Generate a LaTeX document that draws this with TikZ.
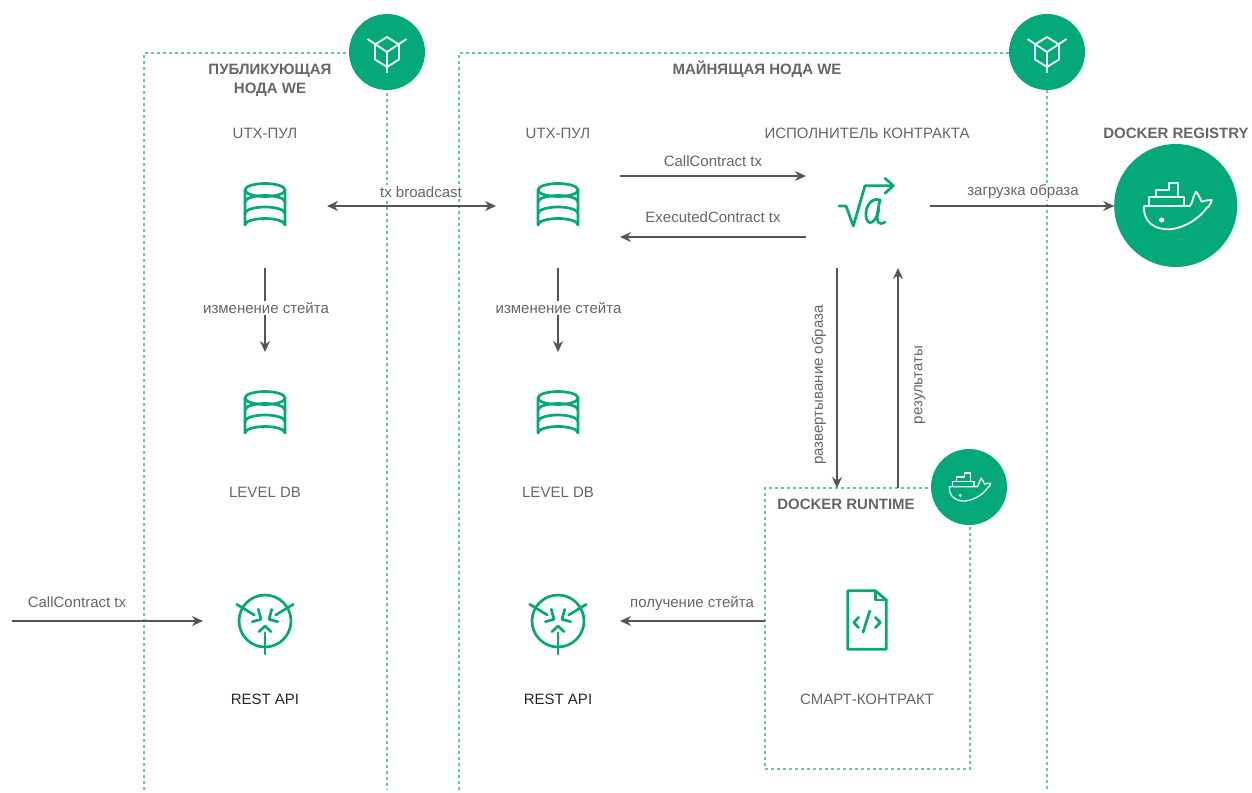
\documentclass[tikz,border=0pt]{standalone}
\usepackage{fontspec}
\setmainfont{Liberation Sans}
\usetikzlibrary{arrows.meta}
\definecolor{wegreen}{HTML}{05A878}
\definecolor{welane}{HTML}{62C9A4}
\definecolor{wetext}{HTML}{666666}
\definecolor{weline}{HTML}{555555}
\newcommand{\txtfont}{\fontsize{15}{19}\selectfont}
\tikzset{
    lane/.style = {draw=welane, line width=1.2pt, dash pattern=on 3pt off 3pt},
    iconbox/.style = {minimum size=124pt, inner sep=0pt, outer sep=0pt},
    badge/.style = {circle, fill=wegreen, inner sep=0pt, outer sep=0pt},
    txt/.style = {text=wetext, font=\txtfont, inner sep=1pt, align=center},
    head/.style = {txt, font=\txtfont\bfseries},
    flow/.style = {draw=weline, line width=1.3pt, -{Stealth[length=11pt,width=10pt]}},
    iconline/.style = {draw=wegreen, line width=2.7pt, line join=round, line cap=round},
    badgeline/.style = {draw=white!90!wegreen, line width=1.9pt, line join=round},
    pics/dbicon/.style = {code = {
        \draw[iconline] (0,-16) ellipse [x radius=20, y radius=6.5];
        \draw[iconline] (-20,-16) -- (-20,19) arc [start angle=180, end angle=360, x radius=20, y radius=6.5] -- (20,-16);
        \draw[iconline] (-20,-4) arc [start angle=180, end angle=360, x radius=20, y radius=6.5];
        \draw[iconline] (-20,7.5) arc [start angle=180, end angle=360, x radius=20, y radius=6.5];
    }},
    pics/apiicon/.style = {code = {
        \draw[iconline] (0,0) circle [radius=26];
        \draw[iconline] (-28.3,-16.7) -- (-10.7,-6);
        \draw[iconline] (28.3,-16.7) -- (10.7,-6);
        \draw[iconline] (0,33) -- (0,11.7);
        \draw[iconline] (-6.7,-11.7) -- (-4,-1.7) -- (-12.7,0.7);
        \draw[iconline] (6.7,-11.7) -- (4,-1.7) -- (12.7,0.7);
        \draw[iconline] (-6,10.7) -- (0,5) -- (6,10.7);
    }},
    pics/fileicon/.style = {code = {
        \draw[iconline] (-19.3,-29.3) -- (8.3,-29.3) -- (19.3,-20) -- (19.3,29.3) -- (-19.3,29.3) -- cycle;
        \draw[iconline] (8.3,-29.3) -- (8.3,-20) -- (19.3,-20);
        \draw[iconline] (-8.3,-2.7) -- (-13.3,2.5) -- (-8.3,7.7);
        \draw[iconline] (8.3,-2.7) -- (13.3,2.5) -- (8.3,7.7);
        \draw[iconline] (2.7,-9) -- (-4,12.3);
    }},
    pics/rooticon/.style = {code = {
        \draw[iconline] (-29,0) -- (-22,0) -- (-14.7,20) -- (-3,-20.3) -- (24.5,-20.3);
        \draw[iconline] (17,-27.7) -- (25.3,-20.3) -- (17,-12.7);
        \draw[iconline] (12,-6) .. controls (4,-9) and (-3,0) .. (-2,10) .. controls (-1,21) and (8,18) .. (11,3);
        \draw[iconline] (12,-6) .. controls (10,3) and (8,12) .. (10,16) .. controls (11,18) and (14,18) .. (17,16);
    }},
    pics/cubeicon/.style = {code = {
        \draw[badgeline] (0,-15) -- (12,-7.5) -- (12,7.5) -- (0,15) -- (-12,7.5) -- (-12,-7.5) -- cycle;
        \draw[badgeline] (0,0) -- (-19.5,-13);
        \draw[badgeline] (0,0) -- (19.5,-13);
        \draw[badgeline] (0,0) -- (0,21);
    }},
    pics/whaleicon/.style = {code = {
        \draw[badgeline] (-24,-2) -- (22,-2) .. controls (25,-6) and (25,-12) .. (28,-16.3) .. controls (31,-13) and (32,-9) .. (33.7,-6.3) .. controls (37,-7.5) and (40,-8) .. (43.7,-8) .. controls (42.5,-4) and (41,-1) .. (38.7,-0.3) .. controls (33,9) and (16,21) .. (0.3,21.3) .. controls (-12,21.5) and (-25,15) .. (-24,-2) -- cycle;
        \draw[badgeline] (-18.7,-2) -- (-18.7,-10.7) -- (-12,-10.7) -- (-12,-18) -- (1.3,-18) -- (1.3,-24.7) -- (10.3,-24.7) -- (10.3,-10.7) -- (16.3,-10.7) -- (16.3,-2);
        \draw[badgeline] (-12,-10.7) -- (10.3,-10.7);
        \fill[white] (-6.3,12) circle [radius=2.6];
    }},
}
\begin{document}
\begin{tikzpicture}[x=1pt, y=-1pt]
    \useasboundingbox (0,0) rectangle (1252,792);
    % lanes go under everything
    \coordinate (publeft) at (144,790);
    \coordinate (pubright) at (387,790);
    \coordinate (pubtop) at (387,53);
    \coordinate (minleft) at (459,790);
    \coordinate (minright) at (1047,790);
    \coordinate (mintop) at (1047,53);
    \draw[lane] (publeft) |- (pubtop) -- (pubright);
    \draw[lane] (minleft) |- (mintop) -- (minright);
    \node[lane, minimum width=205pt, minimum height=281pt, inner sep=0pt, outer sep=0pt] (runtime) at (867.5,628.5) {};
    \node[badge, minimum size=76pt] (pubcube) at (387,52) {};
    \node[badge, minimum size=76pt] (mincube) at (1047,52) {};
    \node[badge, minimum size=76pt] (runwhale) at (969,487) {};
    \node[badge, minimum size=123pt] (registry) at (1175.7,205.5) {};
    \pic at (pubcube) {cubeicon};
    \pic at (mincube) {cubeicon};
    \pic[scale=0.61, badgeline/.append style={line width=1.3pt}] at ([shift={(-5,1)}]runwhale) {whaleicon};
    \pic at ([shift={(-7.7,2.5)}]registry) {whaleicon};
    % icons
    \node[iconbox] (utxa) at (265,206) {};
    \node[iconbox] (utxb) at (558,206) {};
    \node[iconbox] (dba) at (265,414) {};
    \node[iconbox] (dbb) at (558,414) {};
    \node[iconbox] (apia) at (265,621) {};
    \node[iconbox] (apib) at (558,621) {};
    \node[iconbox] (exec) at (868,206) {};
    \node[iconbox] (contract) at (867,620) {};
    \coordinate (client) at (12,621);
    \pic at (utxa) {dbicon};
    \pic at (utxb) {dbicon};
    \pic at (dba) {dbicon};
    \pic at (dbb) {dbicon};
    \pic at (apia) {apiicon};
    \pic at (apib) {apiicon};
    \pic at (exec) {rooticon};
    \pic at (contract) {fileicon};
    % connectors
    \draw[flow, {Stealth[length=11pt,width=10pt]}-{Stealth[length=11pt,width=10pt]}] (utxa.east) -- (utxb.west);
    \draw[flow] ([yshift=30pt]utxb.east) -- ([yshift=30pt]exec.west);
    \draw[flow] ([yshift=-31pt]exec.west) -- ([yshift=-31pt]utxb.east);
    \draw[flow] (exec.east) -- (registry.west |- exec.east);
    \draw[flow] (utxa.south) -- (dba.north);
    \draw[flow] (utxb.south) -- (dbb.north);
    \draw[flow] ([xshift=-31pt]exec.south) -- ([xshift=-31pt]exec.south |- runtime.north);
    \draw[flow] ([xshift=30pt]exec.south |- runtime.north) -- ([xshift=30pt]exec.south);
    \draw[flow] (runtime.west |- apib.east) -- (apib.east);
    \draw[flow] (client) -- (apia.west);
    % labels
    \node[head] (publabel) at (270,80) {ПУБЛИКУЮЩАЯ\\НОДА WE};
    \node[head] (minlabel) at (757,69) {МАЙНЯЩАЯ НОДА WE};
    \node[head] (reglabel) at (1176,133) {DOCKER REGISTRY};
    \node[head] (runlabel) at (846,504) {DOCKER RUNTIME};
    \node[txt] (utxatext) at (265,133) {UTX-ПУЛ};
    \node[txt] (utxbtext) at (558,133) {UTX-ПУЛ};
    \node[txt] (exectext) at (867,133) {ИСПОЛНИТЕЛЬ КОНТРАКТА};
    \node[txt] (dbatext) at (265,492) {LEVEL DB};
    \node[txt] (dbbtext) at (558,492) {LEVEL DB};
    \node[txt, text=black!85] (apiatext) at (265,699) {REST API};
    \node[txt, text=black!85] (apibtext) at (558,699) {REST API};
    \node[txt] (contracttext) at (867,699) {СМАРТ-КОНТРАКТ};
    \node[txt, fill=white] (broadcast) at (421,192) {tx broadcast};
    \node[txt] (calltext) at (713,161) {CallContract tx};
    \node[txt] (donetext) at (713,217) {ExecutedContract tx};
    \node[txt, fill=white] (pulltext) at (1023,192) {загрузка образа};
    \node[txt, fill=white] (statea) at (266,308) {изменение стейта};
    \node[txt, fill=white] (stateb) at (558.5,308) {изменение стейта};
    \node[txt] (readtext) at (692,603) {получение стейта};
    \node[txt] (clienttext) at (77,602) {CallContract tx};
    \node[txt, rotate=90] (deploytext) at (819,385) {развертывание образа};
    \node[txt, rotate=90] (resulttext) at (920,385) {результаты};
\end{tikzpicture}
\end{document}
